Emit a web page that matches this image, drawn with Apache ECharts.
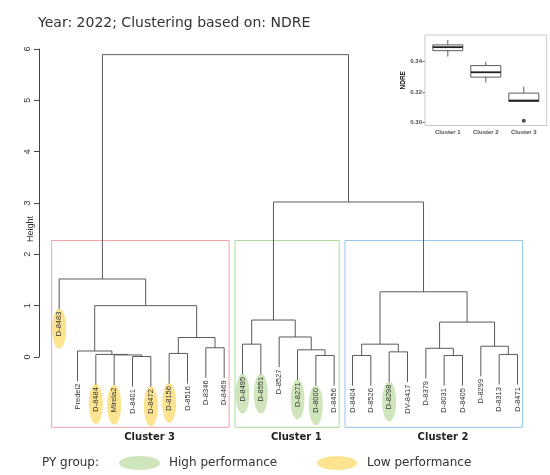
<!DOCTYPE html>
<html><head><meta charset="utf-8">
<script src="https://cdn.jsdelivr.net/npm/echarts@6/dist/echarts.min.js"></script>
<style>html,body{margin:0;padding:0;background:#fff}#c{width:550px;height:475px}</style>
</head><body><div id="c"></div>
<script>
// ---------- data ----------
const leaves = ['D-8483','Predel2','D-8484','Mirela2','D-8401','D-8472','D-8156','D-8516','D-8346','D-8469',
  'D-8495','D-8551','D-8527','D-8271','D-8000','D-8456',
  'D-8404','D-8526','D-8298','DV-8417','D-8379','D-8031','D-8405','D-8299','D-8313','D-8471'];
const pyGroup = ['L','','L','L','','L','L','','','',
  'H','H','','H','H','',
  '','','H','','','','','','',''];
// merge table (R hclust convention: negative = leaf number, positive = earlier merge step)
const mergeLeft   = [-5,-4,-3,-2,-7,-9, 5, 4,-1,-11,-15,-14,-13,10,-17,-19,15,-22,-21,-25,-24,19,17,14, 9];
const mergeRight  = [-6, 1, 2, 3,-8,-10,6, 7, 8,-12,-16, 11, 12,13,-18,-20,16,-23, 18,-26, 20,21,22,23,24];
const mergeHeight = [0.01,0.04,0.05,0.117,0.07,0.18,0.38,1.00,1.52,0.25,0.03,0.14,0.39,0.72,0.03,0.10,0.25,0.03,0.17,0.05,0.21,0.68,1.27,3.02,5.89];
const heightTicks = [0,1,2,3,4,5,6];
const clusterNames = ['Cluster 3','Cluster 1','Cluster 2'];
const clusterFirst = [1, 11, 17];
const clusterLast  = [10, 16, 26];
const legendLabels = ['High performance','Low performance'];

const boxCats = ['Cluster 1','Cluster 2','Cluster 3'];
const boxMin = [0.3433, 0.3262, 0.3135];
const boxQ1  = [0.3472, 0.3298, 0.3138];
const boxMed = [0.3495, 0.3330, 0.3144];
const boxQ3  = [0.3510, 0.3374, 0.3193];
const boxMax = [0.3542, 0.3400, 0.3236];
const outlierCat = ['Cluster 3'];
const outlierVal = [0.3011];
const ndreTicks = [0.30, 0.32, 0.34];

// ---------- styles ----------
const groupColor = {H:'#cfe6bd', L:'#fbe38f'};
const clusterColors = ['#f2a2a8', '#a9dc9a', '#92c6ea'];
const treeColor = '#5a5a5a';

// ---------- dendrogram layout from the merge table ----------
const hang = 0.1 * (Math.max(...mergeHeight) - Math.min(...mergeHeight));
const nodeX = [];
const leafEnd = new Array(leaves.length);
const cx = c => c < 0 ? -c : nodeX[c - 1];
const ch = (c, h) => c < 0 ? h - hang : mergeHeight[c - 1];
const segs = [];
mergeLeft.forEach((l, i) => {
  const r = mergeRight[i], h = mergeHeight[i];
  nodeX[i] = (cx(l) + cx(r)) / 2;
  if (l < 0) leafEnd[-l - 1] = h - hang;
  if (r < 0) leafEnd[-r - 1] = h - hang;
  segs.push({coords: [[cx(l), ch(l, h)], [cx(l), h], [cx(r), h], [cx(r), ch(r, h)]]});
});
const sortedH = [...mergeHeight].sort((a, b) => b - a);
const k = clusterNames.length;
const rectTop = (sortedH[k - 2] + sortedH[k - 1]) / 2;
const rectBottom = -1.37;

const labelData = leaves.map((nm, i) => [i + 1, leafEnd[i], nm]);
const ellipseData = leaves.map((nm, i) => [i + 1, leafEnd[i], pyGroup[i]]).filter(d => d[2]);
const rectData = clusterNames.map((nm, i) => [clusterFirst[i], clusterLast[i], rectTop, nm, i]);
const boxData = boxCats.map((c, i) => [i, boxMin[i], boxQ1[i], boxMed[i], boxQ3[i], boxMax[i]]);

const chart = echarts.init(document.getElementById('c'), null, {renderer: 'canvas'});
chart.setOption({
  animation: false,
  backgroundColor: '#fff',
  title: {text: 'Year: 2022; Clustering based on: NDRE', left: 33, top: 11,
    textStyle: {fontFamily: 'DejaVu Sans', fontSize: 14, fontWeight: 'normal', color: '#333'}},
  grid: [
    {left: 50, top: 49, width: 476.67, height: 308},
    {left: 428.8, top: 35, width: 114, height: 90.5}
  ],
  xAxis: [
    {type: 'value', min: 0.5, max: 26.5, show: false, gridIndex: 0},
    {type: 'category', data: boxCats, gridIndex: 1,
     axisLine: {show: false},
     axisTick: {alignWithLabel: true, length: 2.5, lineStyle: {color: '#333', width: 0.7}},
     axisLabel: {fontFamily: 'Liberation Sans', fontSize: 6, fontWeight: 'bold', color: '#4d4d4d', margin: 4}}
  ],
  yAxis: [
    {type: 'value', min: 0, max: 6, interval: 1, gridIndex: 0, offset: 11,
     axisLine: {show: true, lineStyle: {color: '#444', width: 1}},
     axisTick: {show: true, length: 5, lineStyle: {color: '#444'}},
     splitLine: {show: false},
     axisLabel: {rotate: 90, fontFamily: 'Liberation Sans', fontSize: 9, color: '#333', margin: 7,
       customValues: heightTicks}},
    {type: 'value', min: 0.298, max: 0.3575, gridIndex: 1, offset: 3.8,
     name: 'NDRE', nameLocation: 'middle', nameRotate: 90, nameGap: 16,
     nameTextStyle: {fontFamily: 'Liberation Sans', fontSize: 6.5, fontWeight: 'bold', color: '#111'},
     axisLine: {show: false},
     splitLine: {show: false},
     axisTick: {show: true, length: 2.5, customValues: ndreTicks, lineStyle: {color: '#333', width: 0.7}},
     axisLabel: {customValues: ndreTicks, fontFamily: 'Liberation Sans', fontSize: 6, fontWeight: 'bold',
       color: '#4d4d4d', margin: 3, formatter: v => v.toFixed(2)}}
  ],
  graphic: [
    {type: 'text', x: 31, y: 229, rotation: Math.PI / 2,
     style: {text: 'Height', fontFamily: 'Liberation Sans', fontSize: 9, fill: '#333', align: 'center', verticalAlign: 'middle'}},
    {type: 'rect', shape: {x: 425, y: 35, width: 121.7, height: 90.5}, z: 10,
     style: {fill: 'none', stroke: '#bdbdbd', lineWidth: 0.8}},
    {type: 'text', x: 42, y: 463, style: {text: 'PY group:', fontFamily: 'DejaVu Sans', fontSize: 12, fill: '#333', verticalAlign: 'middle'}},
    {type: 'ellipse', shape: {cx: 139.5, cy: 463, rx: 20.5, ry: 7}, style: {fill: groupColor.H}},
    {type: 'text', x: 169, y: 463, style: {text: legendLabels[0], fontFamily: 'DejaVu Sans', fontSize: 12, fill: '#333', verticalAlign: 'middle'}},
    {type: 'ellipse', shape: {cx: 337, cy: 463, rx: 20, ry: 7}, style: {fill: groupColor.L}},
    {type: 'text', x: 367, y: 463, style: {text: legendLabels[1], fontFamily: 'DejaVu Sans', fontSize: 12, fill: '#333', verticalAlign: 'middle'}}
  ],
  series: [
    {type: 'custom', xAxisIndex: 0, yAxisIndex: 0, clip: false, z: 1, data: ellipseData,
     renderItem: (params, api) => {
       const p = api.coord([api.value(0), api.value(1)]);
       const g = ellipseData[params.dataIndex][2];
       return {type: 'ellipse', shape: {cx: p[0], cy: p[1] + 19.5, rx: 7, ry: 20}, style: {fill: groupColor[g]}};
     }},
    {type: 'custom', xAxisIndex: 0, yAxisIndex: 0, clip: false, z: 2, data: rectData,
     renderItem: (params, api) => {
       const d = rectData[params.dataIndex];
       const a = api.coord([d[0] - 0.41, d[2]]);
       const b = api.coord([d[1] + 0.27, rectBottom]);
       const mid = api.coord([(d[0] + d[1]) / 2, rectBottom]);
       return {type: 'group', children: [
         {type: 'rect', shape: {x: a[0], y: a[1], width: b[0] - a[0], height: b[1] - a[1]},
          style: {fill: 'none', stroke: clusterColors[d[4]], lineWidth: 1}},
         {type: 'text', x: mid[0] + 8, y: b[1] + 10,
          style: {text: d[3], fontFamily: 'DejaVu Sans', fontWeight: 'bold', fontSize: 10, fill: '#222',
            align: 'center', verticalAlign: 'middle'}}
       ]};
     }},
    {type: 'lines', coordinateSystem: 'cartesian2d', xAxisIndex: 0, yAxisIndex: 0, polyline: true, clip: false, z: 3,
     lineStyle: {color: treeColor, width: 1, opacity: 1}, data: segs},
    {type: 'custom', xAxisIndex: 0, yAxisIndex: 0, clip: false, z: 4, data: labelData,
     renderItem: (params, api) => {
       const p = api.coord([api.value(0), api.value(1)]);
       return {type: 'text', x: p[0], y: p[1] + 2.5, rotation: Math.PI / 2,
         style: {text: labelData[params.dataIndex][2], fontFamily: 'Liberation Sans', fontSize: 7.5, fill: '#333',
           align: 'right', verticalAlign: 'middle'}};
     }},
    {type: 'custom', xAxisIndex: 1, yAxisIndex: 1, data: boxData, z: 5,
     renderItem: (params, api) => {
       const i = api.value(0);
       const pMin = api.coord([i, api.value(1)]), pQ1 = api.coord([i, api.value(2)]),
             pMed = api.coord([i, api.value(3)]), pQ3 = api.coord([i, api.value(4)]),
             pMax = api.coord([i, api.value(5)]);
       const hw = 15, x = pMed[0];
       const st = {stroke: '#333', lineWidth: 0.8};
       return {type: 'group', children: [
         {type: 'line', shape: {x1: x, y1: pMax[1], x2: x, y2: pQ3[1]}, style: st},
         {type: 'line', shape: {x1: x, y1: pQ1[1], x2: x, y2: pMin[1]}, style: st},
         {type: 'rect', shape: {x: x - hw, y: pQ3[1], width: 2 * hw, height: pQ1[1] - pQ3[1]},
          style: {fill: '#fff', stroke: '#333', lineWidth: 0.8}},
         {type: 'line', shape: {x1: x - hw, y1: pMed[1], x2: x + hw, y2: pMed[1]}, style: {stroke: '#222', lineWidth: 1.8}}
       ]};
     }},
    {type: 'scatter', xAxisIndex: 1, yAxisIndex: 1, symbolSize: 4, itemStyle: {color: '#222'},
     data: outlierCat.map((c, i) => [c, outlierVal[i]])}
  ]
});
</script></body></html>
